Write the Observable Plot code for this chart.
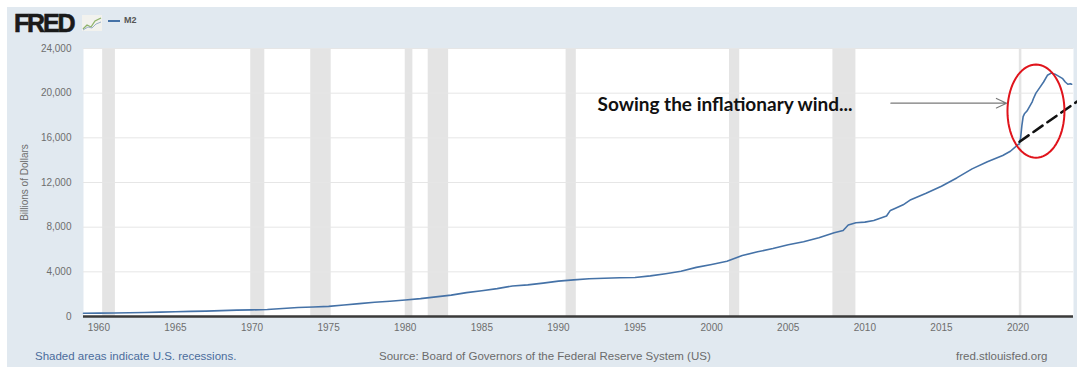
<!DOCTYPE html>
<html><head><meta charset="utf-8">
<script src="https://cdn.jsdelivr.net/npm/d3@7"></script>
<script src="https://cdn.jsdelivr.net/npm/@observablehq/plot@0.6"></script>
<style>
body{margin:0;background:#fff;font-family:"Liberation Sans",Arial,sans-serif;width:1077px;height:373px;overflow:hidden;position:relative;}
#panel{position:absolute;left:7px;top:7px;width:1070px;height:360px;background:#e1e9f0;}
#logo{position:absolute;left:14px;top:9px;font:bold 25px "Liberation Sans",Arial,sans-serif;letter-spacing:-2.2px;color:#1a1a1a;-webkit-text-stroke:0.6px #1a1a1a;}
#icon{position:absolute;left:82px;top:15px;}
#legline{position:absolute;left:108px;top:20px;width:12px;height:2px;background:#4572a7;}
#legtxt{position:absolute;left:124px;top:15px;font:bold 9px "Liberation Sans",Arial,sans-serif;color:#555;}
#chart{position:absolute;left:0;top:38px;}
.foot{position:absolute;top:350px;font-size:11.5px;white-space:nowrap;}
</style></head>
<body>
<div id="panel"></div>
<div id="logo">FRED</div>
<svg id="icon" width="20" height="16" viewBox="0 0 20 16"><rect x="0" y="0" width="20" height="16" fill="#f2f2ee"/><polyline points="1,14 5,10 9,12 13,6 19,3" fill="none" stroke="#8fb36a" stroke-width="1.3"/><polyline points="1,15 6,12 10,13 14,9 19,7" fill="none" stroke="#9ab0c8" stroke-width="1"/></svg>
<div id="legline"></div>
<div id="legtxt">M2</div>
<div id="chart"></div>
<div class="foot" style="left:35px;color:#4b6c9c;">Shaded areas indicate U.S. recessions.</div>
<div class="foot" style="left:379px;color:#6b6b6b;">Source: Board of Governors of the Federal Reserve System (US)</div>
<div class="foot" style="left:956px;color:#6b6b6b;">fred.stlouisfed.org</div>
<script>
// M2 money stock, billions of dollars
const m2Dates = ["1959-01","1960-01","1961-01","1962-01","1963-01","1964-01","1965-01","1966-01","1967-01","1968-01","1969-01","1970-01","1971-01","1972-01","1973-01","1974-01","1975-01","1976-01","1977-01","1978-01","1979-01","1980-01","1981-01","1982-01","1983-01","1984-01","1985-01","1986-01","1987-01","1988-01","1989-01","1990-01","1991-01","1992-01","1993-01","1994-01","1995-01","1996-01","1997-01","1998-01","1999-01","2000-01","2001-01","2002-01","2003-01","2004-01","2005-01","2006-01","2007-01","2008-01","2008-08","2008-12","2009-06","2010-01","2010-08","2011-06","2011-09","2012-01","2012-07","2013-01","2014-01","2015-01","2016-01","2017-01","2018-01","2019-01","2019-07","2020-01","2020-02","2020-03","2020-04","2020-05","2020-06","2020-08","2020-10","2020-12","2021-01","2021-03","2021-06","2021-09","2021-12","2022-03","2022-06","2022-09","2022-12","2023-02","2023-04","2023-06","2023-07"];
const m2Values = [287,298,312,336,364,393,425,459,481,526,569,590,628,710,802,856,909,1024,1152,1270,1366,1474,1600,1758,1914,2138,2312,2499,2733,2832,2990,3166,3284,3382,3424,3475,3490,3640,3830,4049,4400,4664,4942,5456,5791,6088,6428,6700,7050,7500,7700,8200,8400,8450,8600,9000,9500,9700,10000,10460,11040,11670,12410,13220,13860,14420,14800,15400,15450,16000,17100,17900,18150,18400,18800,19200,19500,20000,20500,21000,21600,21800,21700,21500,21300,21000,20800,20850,20800];

// NBER recessions
const recStarts = ["1960-04","1969-12","1973-11","1980-01","1981-07","1990-07","2001-03","2007-12","2020-02"];
const recEnds   = ["1961-02","1970-11","1975-03","1980-07","1982-11","1991-03","2001-11","2009-06","2020-04"];

const yTicks = [0,4000,8000,12000,16000,20000,24000];
const xTicks = [1960,1965,1970,1975,1980,1985,1990,1995,2000,2005,2010,2015,2020];

// annotations (data units)
const trendYears = [2020.1, 2023.85];
const trendValues = [15650, 19250];
const arrowFrom = [2011.7, 19100];
const arrowTo = [2019.25, 19100];
const noteText = "Sowing the inflationary wind...";
const notePos = [1992.55, 18950];
const ellipseCenter = [2021.17, 18390];
const ellipseRadii = [1.86, 4170];

const toYear = s => { const [y,m] = s.split("-").map(Number); return y + (m-1)/12; };
const m2 = m2Dates.map((d,i) => ({x: toYear(d), y: m2Values[i]}));
const rec = recStarts.map((s,i) => ({x1: toYear(s), x2: toYear(recEnds[i])}));
const trend = trendYears.map((x,i) => ({x, y: trendValues[i]}));
const ellipse = d3.range(0, 73).map(k => {
  const t = k/72*2*Math.PI;
  return {x: ellipseCenter[0] + ellipseRadii[0]*Math.cos(t), y: ellipseCenter[1] + ellipseRadii[1]*Math.sin(t)};
});

const chart = Plot.plot({
  width: 1077, height: 304,
  marginLeft: 83, marginRight: 4, marginTop: 10, marginBottom: 26,
  style: {background: "transparent", fontFamily: "'Liberation Sans', Arial, sans-serif"},
  x: {domain: [1959.0, 2023.62]},
  y: {domain: [0, 24000]},
  marks: [
    Plot.frame({fill: "white", stroke: null}),
    Plot.rectY(rec, {x1: "x1", x2: "x2", y1: 0, y2: 24000, fill: "#e4e4e4"}),
    Plot.gridY(yTicks.slice(1), {stroke: "#e6e6e6", strokeOpacity: 1, strokeWidth: 1}),
    Plot.axisY(yTicks, {tickSize: 0, tickPadding: 12, fontSize: 10, fill: "#6e6e6e", tickFormat: d3.format(","),
      label: "Billions of Dollars", labelAnchor: "center", labelArrow: "none", labelOffset: 63}),
    Plot.axisX(xTicks, {tickSize: 0, tickPadding: 7, fontSize: 10, fill: "#6e6e6e", tickFormat: d => String(d), label: null}),
    Plot.ruleY([0], {stroke: "#3a3a3a", strokeWidth: 2.5}),
    Plot.line(m2, {x: "x", y: "y", stroke: "#4572a7", strokeWidth: 1.6}),
    Plot.line(trend, {x: "x", y: "y", stroke: "#111", strokeWidth: 2.6, strokeDasharray: "11,6"}),
    Plot.line(ellipse, {x: "x", y: "y", stroke: "#e0141c", strokeWidth: 2}),
    Plot.arrow([0], {x1: () => arrowFrom[0], y1: () => arrowFrom[1], x2: () => arrowTo[0], y2: () => arrowTo[1],
      stroke: "#7a7a7a", strokeWidth: 1.2, headLength: 14, headAngle: 50}),
    Plot.text([noteText], {x: () => notePos[0], y: () => notePos[1], text: d => d, textAnchor: "start",
      fontSize: 19, fontWeight: "bold", fill: "#111", fontFamily: "Lato, 'Open Sans', sans-serif"})
  ]
});
document.getElementById("chart").appendChild(chart);
</script>
</body></html>
